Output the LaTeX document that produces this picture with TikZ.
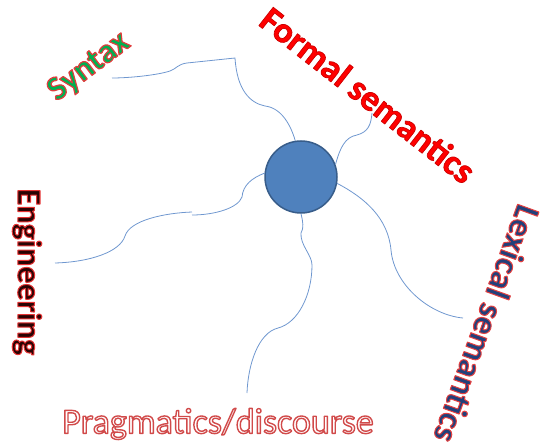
\documentclass[tikz,border=0pt]{standalone}
\usepackage{fontspec}
\setmainfont{Carlito}
\usepackage{tikz}
\definecolor{hubfill}{HTML}{4F81BD}
\definecolor{hubline}{HTML}{385D8A}
\definecolor{linkcol}{HTML}{6F97CF}
\definecolor{syngreen}{HTML}{00B050}
\definecolor{engdark}{HTML}{2A0404}
\definecolor{lexblue}{HTML}{22407A}

% text filled and stroked at once: rim rgb, fill colour, text, rim width
\newcommand\rimtext[4]{{\color{#2}%
  \special{pdf:literal direct 2 Tr #4 w 1 j #1 RG}#3%
  \special{pdf:literal direct 0 Tr}}}

\tikzset{
    hubnode/.style={circle, draw=hubline, fill=hubfill, line width=1.5pt,
                    minimum size=72pt, inner sep=0pt},
    link/.style={draw=linkcol, line width=0.8pt},
    topic/.style={font=\fontsize{34}{40}\selectfont\bfseries, inner sep=0pt},
}

\begin{document}
\begin{tikzpicture}[x=1pt, y=-1pt]
            \useasboundingbox (0,0) rectangle (542,447);

            \node[hubnode] (hub) at (301,177) {};

            % topics round the hub
            \node[topic, rotate=37]  (syntax) at (89,67)  {\rimtext{0.88 0.24 0.24}{syngreen}{Syntax}{1.2}};
            \node[topic, rotate=-38, font=\fontsize{36}{42}\selectfont\bfseries] (formal) at (368,95)
                {\rimtext{0.8 0 0}{red}{Formal semantics}{0.7}};
            \node[topic, rotate=-90] (eng)    at (27,272) {\rimtext{0.9 0.2 0.2}{engdark}{Engineering}{1.0}};
            \node[topic, rotate=-110, font=\fontsize{35}{41}\selectfont\bfseries] (lex) at (487,324)
                {\rimtext{0.9 0.25 0.25}{lexblue}{Lexical semantics}{1.0}};
            \node[topic, font=\fontsize{36}{42}\selectfont] (prag) at (218,424)
                {\rimtext{0.82 0.29 0.29}{white}{Pragmatics/discourse}{1.4}};

            % loose ends of the links
            \coordinate (syn-end)    at (112,78);
            \coordinate (formal-end) at (372,113);
            \coordinate (eng-end)    at (55,263);
            \coordinate (lex-end)    at (463,318);
            \coordinate (prag-end)   at (247,393);

            \draw[link] (hub.99) .. controls (291,126) and (282,108) .. (265,106)
                .. controls (250,103) and (237,90) .. (235,58) -- (187,63)
                .. controls (178,64) and (176,69) .. (170,71)
                .. controls (158,75) and (130,78) .. (syn-end);
            \draw[link] (hub.20) .. controls (340,148) and (345,137) .. (357,135)
                .. controls (368,132) and (371,125) .. (formal-end);
            \draw[link] (hub.174) .. controls (252,178) and (243,185) .. (242,197)
                .. controls (238,208) and (215,215) .. (192,215)
                (192,212) .. controls (165,213) and (130,220) .. (125,236)
                .. controls (120,252) and (90,262) .. (eng-end);
            \draw[link] (hub.-10) .. controls (365,198) and (388,218) .. (391,250)
                .. controls (394,285) and (430,315) .. (lex-end);
            \draw[link] (hub.-90) .. controls (303,222) and (304,228) .. (301,233)
                .. controls (300,245) and (312,255) .. (312,265)
                .. controls (312,295) and (298,323) .. (278,328)
                .. controls (258,333) and (248,365) .. (prag-end);
        \end{tikzpicture}
\end{document}
